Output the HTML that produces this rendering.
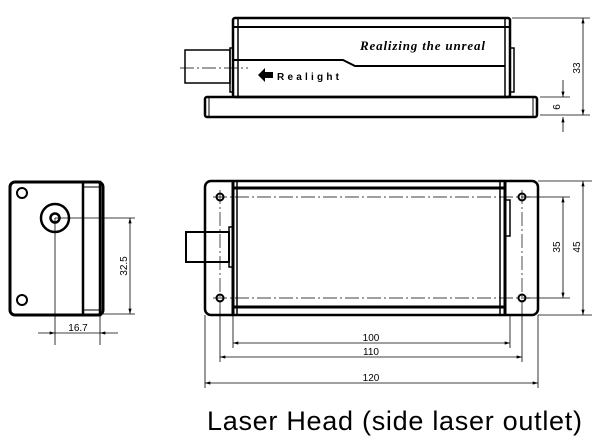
<!DOCTYPE html>
<html><head><style>body{margin:0;background:#fff}svg{display:block}</style></head><body>
<svg width="616" height="445" viewBox="0 0 616 445" xmlns="http://www.w3.org/2000/svg" font-family="Liberation Sans, sans-serif">
<defs>
<marker id="a" viewBox="0 0 10 6" refX="10" refY="3" markerWidth="8" markerHeight="4" orient="auto-start-reverse"><path d="M0,0L10,3L0,6z" fill="#000"/></marker>
</defs>
<g fill="none" stroke="#000">
<!-- TOP VIEW -->
<rect x="233" y="18" width="277" height="79" rx="2" stroke-width="2.5"/>
<line x1="233" y1="27" x2="510" y2="27" stroke-width="2"/>
<line x1="238" y1="18" x2="238" y2="97" stroke-width="1.5"/>
<line x1="505" y1="18" x2="505" y2="97" stroke-width="1.5"/>
<polyline points="233,60 343,60 355,66 505,66" stroke-width="2"/>
<rect x="230" y="48" width="3" height="44" stroke-width="1.5"/>
<rect x="510" y="48" width="4" height="44" stroke-width="1.5"/>
<rect x="185" y="50" width="45" height="33" stroke-width="1.5"/>
<line x1="180" y1="68" x2="248" y2="68" stroke-width="0.8" stroke-dasharray="14,3,2,3"/>
<rect x="205" y="97" width="332" height="20" rx="2" stroke-width="2.5"/>
<line x1="209" y1="97" x2="209" y2="117" stroke-width="1"/>
<line x1="533" y1="97" x2="533" y2="117" stroke-width="1"/>
<g stroke-width="0.8">
<line x1="512" y1="18" x2="590" y2="18"/><line x1="540" y1="115" x2="590" y2="115"/>
<line x1="583" y1="18" x2="583" y2="115" marker-start="url(#a)" marker-end="url(#a)"/>
<line x1="540" y1="97" x2="570" y2="97"/>
<line x1="563" y1="80" x2="563" y2="97" marker-end="url(#a)"/>
<line x1="563" y1="117" x2="563" y2="132" marker-start="url(#a)"/>
</g>
<!-- SIDE VIEW -->
<rect x="10" y="182" width="93" height="133" rx="5" stroke-width="3"/>
<rect x="83" y="182" width="17" height="133" stroke-width="2.5"/>
<line x1="83" y1="187" x2="100" y2="187" stroke-width="1"/>
<line x1="83" y1="310" x2="100" y2="310" stroke-width="1"/>
<circle cx="55" cy="218" r="14" stroke-width="2.5"/>
<circle cx="55" cy="218" r="4.5" stroke-width="2.5"/>
<circle cx="22" cy="193" r="5" stroke-width="2"/>
<circle cx="22" cy="300" r="5" stroke-width="2"/>
<g stroke-width="0.8">
<line x1="55" y1="218" x2="135" y2="218"/><line x1="103" y1="314" x2="135" y2="314"/>
<line x1="130" y1="218" x2="130" y2="314" marker-start="url(#a)" marker-end="url(#a)"/>
<line x1="55" y1="218" x2="55" y2="345"/><line x1="100" y1="314" x2="100" y2="345"/>
<line x1="38" y1="333" x2="55" y2="333" marker-end="url(#a)"/>
<line x1="55" y1="333" x2="100" y2="333"/>
<line x1="100" y1="333" x2="118" y2="333" marker-start="url(#a)"/>
</g>
<!-- FRONT VIEW -->
<rect x="205" y="181" width="333" height="134" rx="6" stroke-width="2.5"/>
<line x1="233" y1="181" x2="233" y2="315" stroke-width="3"/>
<line x1="237" y1="181" x2="237" y2="315" stroke-width="1.5"/>
<line x1="500" y1="181" x2="500" y2="315" stroke-width="1.5"/>
<line x1="505" y1="181" x2="505" y2="315" stroke-width="3"/>
<line x1="233" y1="188" x2="505" y2="188" stroke-width="3"/>
<line x1="233" y1="307" x2="505" y2="307" stroke-width="3"/>
<rect x="505" y="200" width="5" height="36" stroke-width="1.5"/>
<rect x="229" y="227" width="4" height="40" stroke-width="1.5"/>
<rect x="186" y="232" width="43" height="30" stroke-width="2"/>
<g stroke-width="2"><circle cx="220" cy="197" r="3.5"/><circle cx="522" cy="197" r="3.5"/><circle cx="220" cy="298" r="3.5"/><circle cx="522" cy="298" r="3.5"/></g>
<g stroke-width="0.7" stroke-dasharray="14,3,2,3">
<line x1="213" y1="197" x2="530" y2="197"/><line x1="213" y1="298" x2="530" y2="298"/>
<line x1="220" y1="190" x2="220" y2="305"/><line x1="522" y1="190" x2="522" y2="305"/>
</g>
<g stroke-width="0.8">
<line x1="538" y1="181" x2="592" y2="181"/><line x1="538" y1="315" x2="592" y2="315"/>
<line x1="583" y1="181" x2="583" y2="315" marker-start="url(#a)" marker-end="url(#a)"/>
<line x1="527" y1="197" x2="570" y2="197"/><line x1="527" y1="298" x2="570" y2="298"/>
<line x1="563" y1="197" x2="563" y2="298" marker-start="url(#a)" marker-end="url(#a)"/>
<line x1="233" y1="315" x2="233" y2="348"/><line x1="510" y1="315" x2="510" y2="348"/>
<line x1="220" y1="305" x2="220" y2="362"/><line x1="522" y1="305" x2="522" y2="362"/>
<line x1="205" y1="315" x2="205" y2="388"/><line x1="538" y1="315" x2="538" y2="388"/>
<line x1="233" y1="343" x2="510" y2="343" marker-start="url(#a)" marker-end="url(#a)"/>
<line x1="220" y1="357" x2="522" y2="357" marker-start="url(#a)" marker-end="url(#a)"/>
<line x1="205" y1="383" x2="538" y2="383" marker-start="url(#a)" marker-end="url(#a)"/>
</g>
</g>
<g fill="#000" font-size="10">
<text x="371" y="341" text-anchor="middle">100</text>
<text x="371" y="355" text-anchor="middle">110</text>
<text x="371" y="381" text-anchor="middle">120</text>
<text x="78" y="331" text-anchor="middle">16.7</text>
<text transform="translate(127,266) rotate(-90)" text-anchor="middle">32.5</text>
<text transform="translate(560,247) rotate(-90)" text-anchor="middle">35</text>
<text transform="translate(580,247) rotate(-90)" text-anchor="middle">45</text>
<text transform="translate(580,68) rotate(-90)" text-anchor="middle">33</text>
<text transform="translate(560,107) rotate(-90)" text-anchor="middle">6</text>
<text x="360" y="50" font-family="Liberation Serif, serif" font-style="italic" font-weight="bold" font-size="13" textLength="125">Realizing the unreal</text>
<path d="M258,75 l7,-7 v4 h8 v6 h-8 v4z"/>
<text x="277" y="80" font-weight="bold" font-size="10" textLength="62">Realight</text>
<text x="207" y="430" font-size="27" textLength="375">Laser Head (side laser outlet)</text>
</g>
</svg>
</body></html>
